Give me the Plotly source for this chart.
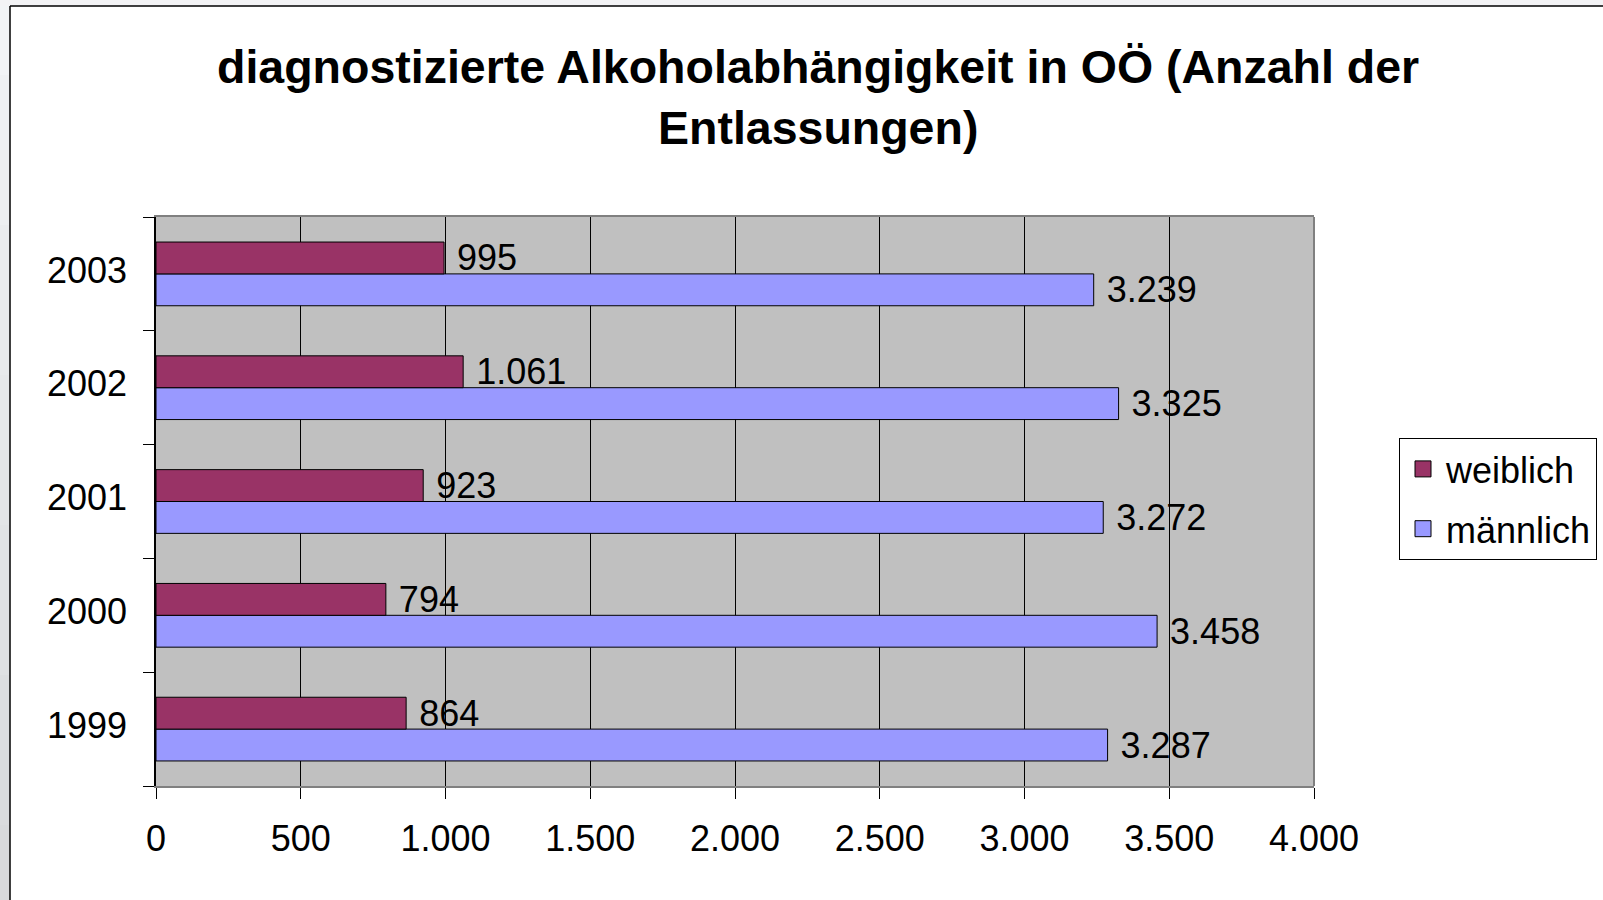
import plotly.graph_objects as go

years = ["1999", "2000", "2001", "2002", "2003"]
weiblich = [864, 794, 923, 1061, 995]
maennlich = [3287, 3458, 3272, 3325, 3239]
x_ticks = [0, 500, 1000, 1500, 2000, 2500, 3000, 3500, 4000]
title_lines = ["diagnostizierte Alkoholabhängigkeit in OÖ (Anzahl der", "Entlassungen)"]

FONT = "Liberation Sans, Arial, sans-serif"
W, H = 1603, 900
L, R, T, B = 156, 1314, 217, 786


def fmt(v):
    return f"{v:,}".replace(",", ".")


def px(x):
    return (x - L) / (R - L)


def py(y):
    return (B - y) / (B - T)


fig = go.Figure()
fig.add_trace(go.Bar(
    y=years, x=maennlich, orientation="h", name="männlich",
    marker=dict(color="#9999FF", line=dict(color="black", width=1)),
    text=[" " + fmt(v) for v in maennlich], textposition="outside",
    textfont=dict(size=36, color="black", family=FONT),
    constraintext="none", cliponaxis=False, showlegend=False,
))
fig.add_trace(go.Bar(
    y=years, x=weiblich, orientation="h", name="weiblich",
    marker=dict(color="#993366", line=dict(color="black", width=1)),
    text=[" " + fmt(v) for v in weiblich], textposition="outside",
    textfont=dict(size=36, color="black", family=FONT),
    constraintext="none", cliponaxis=False, showlegend=False,
))
# legend entries
fig.add_trace(go.Scatter(x=[None], y=[None], mode="markers", name="weiblich",
                         legendgroup="w",
                         marker=dict(symbol="square", size=16, color="#993366",
                                     line=dict(color="black", width=1))))
fig.add_trace(go.Scatter(x=[None], y=[None], mode="markers", name="männlich",
                         legendgroup="m",
                         marker=dict(symbol="square", size=16, color="#9999FF",
                                     line=dict(color="black", width=1))))

shapes = []
# outer gray area (left strip with gentle gradient, top strip)
n = 12
for i in range(n):
    c = int(0xF2 - (0xF2 - 0xD8) * i / (n - 1))
    col = f"rgb({c},{c+2},{c+4})"
    y0 = H * i / n
    y1 = H * (i + 1) / n
    shapes.append(dict(type="rect", xref="paper", yref="paper",
                       x0=px(0), x1=px(10), y0=py(y1), y1=py(y0),
                       fillcolor=col, line=dict(width=0), layer="below"))
shapes.append(dict(type="rect", xref="paper", yref="paper",
                   x0=px(0), x1=px(W), y0=py(6), y1=py(0),
                   fillcolor="#f3f3f5", line=dict(width=0), layer="below"))
# frame lines
shapes.append(dict(type="line", xref="paper", yref="paper",
                   x0=px(10), x1=px(10), y0=py(H), y1=py(6),
                   line=dict(color="black", width=1.5)))
shapes.append(dict(type="line", xref="paper", yref="paper",
                   x0=px(10), x1=px(W), y0=py(6), y1=py(6),
                   line=dict(color="black", width=1.5)))
# right border of plot area
shapes.append(dict(type="line", xref="paper", yref="paper", x0=1, x1=1, y0=0, y1=1,
                   line=dict(color="#808080", width=2)))

annotations = []
for i, line in enumerate(title_lines):
    annotations.append(dict(text=f"<b>{line}</b>", xref="paper", yref="paper",
                            x=px(818), y=py(67 + 61 * i), xanchor="center", yanchor="middle",
                            showarrow=False, font=dict(size=46.5, color="black", family=FONT)))

fig.update_layout(
    width=W, height=H,
    margin=dict(l=L, r=W - R, t=T, b=H - B, pad=0, autoexpand=False),
    paper_bgcolor="white", plot_bgcolor="#C0C0C0",
    barmode="group", bargap=0.44, bargroupgap=0,
    separators=",.",
    font=dict(family=FONT, size=36, color="black"),
    showlegend=True,
    legend=dict(x=px(1399), y=py(438), xanchor="left", yanchor="top",
                bgcolor="white", bordercolor="black", borderwidth=1,
                font=dict(size=36, family=FONT, color="black"),
                tracegroupgap=10, itemsizing="trace", itemwidth=36),
    shapes=shapes, annotations=annotations,
)
fig.update_xaxes(
    range=[0, 4000], tickvals=x_ticks, ticktext=[fmt(v) for v in x_ticks],
    showgrid=True, gridcolor="black", gridwidth=1,
    showline=True, linecolor="#808080", linewidth=2, mirror=True,
    ticks="outside", ticklen=11, tickcolor="black", tickwidth=1,
    ticklabelstandoff=9,
    tickfont=dict(size=36, family=FONT, color="black"), zeroline=False,
)
fig.update_yaxes(
    type="category", categoryorder="array", categoryarray=years,
    showgrid=False, showline=True, linecolor="black", linewidth=1.5, mirror=False,
    ticks="outside", ticklen=11, tickcolor="black", tickwidth=1, tickson="boundaries",
    ticklabelstandoff=20, ticklabelshift=-4,
    tickfont=dict(size=36, family=FONT, color="black"),
)

fig.write_html("out.html", config={"displayModeBar": False},
               post_script="document.body.style.margin='0px';")
